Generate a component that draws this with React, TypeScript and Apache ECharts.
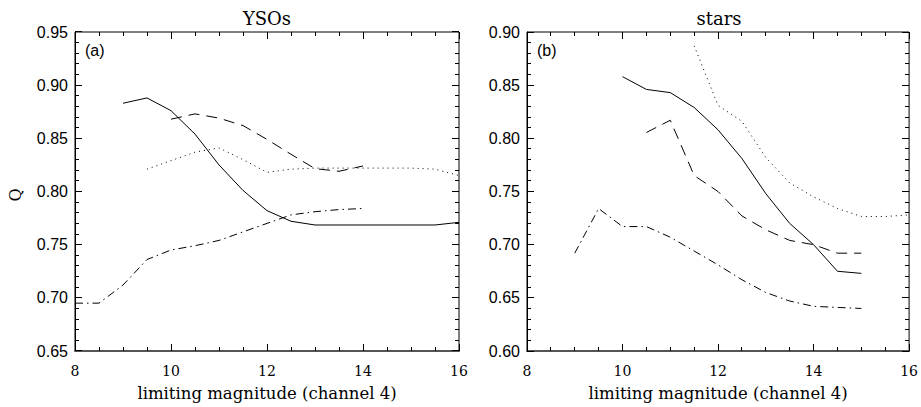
import React, { useEffect, useRef } from "react";
import * as echarts from "echarts";

const mags = [8, 8.5, 9, 9.5, 10, 10.5, 11, 11.5, 12, 12.5, 13, 13.5, 14, 14.5, 15, 15.5, 16];

// Panel (a): YSOs
const ysoSolid = [null, null, 0.883, 0.888, 0.876, 0.854, 0.825, 0.801, 0.782, 0.772, 0.7685, 0.7685, 0.7685, 0.7685, 0.7685, 0.7685, 0.771];
const ysoDashed = [null, null, null, null, 0.868, 0.873, 0.869, 0.862, 0.849, 0.835, 0.8215, 0.819, 0.824, null, null, null, null];
const ysoDotted = [null, null, null, 0.821, 0.829, 0.837, 0.841, 0.830, 0.818, 0.821, 0.822, 0.822, 0.822, 0.822, 0.822, 0.821, 0.815];
const ysoDashDot = [0.695, 0.695, 0.712, 0.736, 0.745, 0.749, 0.754, 0.762, 0.770, 0.778, 0.781, 0.783, 0.784, null, null, null, null];

// Panel (b): stars
const starSolid = [null, null, null, null, 0.858, 0.846, 0.843, 0.829, 0.808, 0.781, 0.748, 0.720, 0.700, 0.675, 0.673, null, null];
const starDotted = [null, null, null, null, null, null, null, 0.887, 0.831, 0.816, 0.782, 0.758, 0.745, 0.734, 0.7265, 0.7265, 0.728];
const starDashed = [null, null, null, null, null, 0.8055, 0.817, 0.765, 0.750, 0.727, 0.714, 0.704, 0.700, 0.692, 0.692, null, null];
const starDashDot = [null, null, 0.692, 0.734, 0.717, 0.717, 0.707, 0.694, 0.681, 0.667, 0.655, 0.647, 0.642, 0.641, 0.640, null, null];

const xTicks = [8, 10, 12, 14, 16];
const yTicksA = [0.65, 0.70, 0.75, 0.80, 0.85, 0.90, 0.95];
const yTicksB = [0.60, 0.65, 0.70, 0.75, 0.80, 0.85, 0.90];

const panelTitles = ["YSOs", "stars"];
const panelTags = ["(a)", "(b)"];
const xName = "limiting magnitude (channel 4)";
const yName = "Q";

const SERIF = "DejaVu Serif";
const SANS = "Liberation Sans";

// y values are plotted in hundredths so the axis works on whole numbers
const SCALE = 100;

function pairs(vals: (number | null)[]) {
  const out: [number, number][] = [];
  vals.forEach((v, i) => {
    if (v !== null) out.push([mags[i], Math.round(v * SCALE * 100) / 100]);
  });
  return out;
}

function minorsBetween(major: number[], parts: number) {
  const out: number[] = [];
  for (let i = 0; i < major.length - 1; i++) {
    const a = major[i];
    const b = major[i + 1];
    for (let k = 1; k < parts; k++) out.push(a + ((b - a) * k) / parts);
  }
  return out;
}

const styles: Record<string, any> = {
  solid: { type: "solid" },
  dashed: { type: [11, 7] },
  dotted: { type: [1, 4] },
  dashdot: { type: [8, 4, 1.5, 4] },
};

const MAJOR = 7;
const MINOR = 4;

export default function App() {
  const ref = useRef<HTMLDivElement>(null);
  useEffect(() => {
    document.body.style.margin = "0";
    const chart = echarts.init(ref.current!, null, { renderer: "svg" });
    const grids = [
      { left: 75, top: 32, width: 384, height: 326, show: true, borderColor: "#000", borderWidth: 1, backgroundColor: "transparent" },
      { left: 527, top: 32, width: 384, height: 326, show: true, borderColor: "#000", borderWidth: 1, backgroundColor: "transparent" },
    ];
    const xAxes: any[] = [];
    const yAxes: any[] = [];
    [0, 1].forEach((g) => {
      const yt = g === 0 ? yTicksA : yTicksB;
      xAxes.push({
        type: "value",
        gridIndex: g,
        min: xTicks[0],
        max: xTicks[xTicks.length - 1],
        interval: 2,
        splitLine: { show: false },
        axisTick: { show: false },
        minorTick: { show: false },
        axisLine: { show: true, lineStyle: { color: "#555", width: 2 } },
        axisLabel: { show: true, fontFamily: SERIF, fontSize: 14, color: "#000", margin: 13 },
        name: xName,
        nameLocation: "middle",
        nameGap: 34,
        nameTextStyle: { fontFamily: SERIF, fontSize: 16.5, color: "#000" },
      });
      yAxes.push({
        type: "value",
        gridIndex: g,
        min: Math.round(yt[0] * SCALE),
        max: Math.round(yt[yt.length - 1] * SCALE),
        interval: 5,
        splitLine: { show: false },
        axisTick: { show: false },
        minorTick: { show: false },
        axisLine: { show: true, lineStyle: { color: "#000", width: 1 } },
        axisLabel: {
          show: true,
          fontFamily: SANS,
          fontSize: 16,
          color: "#000",
          margin: 7,
          formatter: (v: number) => (v / SCALE).toFixed(2),
        },
      });
    });

    const mk = (vals: (number | null)[], style: string, g: number) => ({
      type: "line",
      xAxisIndex: g,
      yAxisIndex: g,
      data: pairs(vals),
      showSymbol: false,
      symbol: "none",
      lineStyle: { color: "#000", width: 1, ...styles[style] },
    });

    // Tick marks on all four sides as thin filled rectangles, placed through the axes' own scales
    const tickSeries = (g: number) => {
      const yt = (g === 0 ? yTicksA : yTicksB).map((v) => Math.round(v * SCALE));
      const xMinor = minorsBetween(xTicks, 4);
      const yMinor = minorsBetween(yt, 5);
      const x0 = xTicks[0];
      const x1 = xTicks[xTicks.length - 1];
      const y0 = yt[0];
      const y1 = yt[yt.length - 1];
      return {
        type: "custom",
        xAxisIndex: g,
        yAxisIndex: g,
        z: 10,
        clip: false,
        data: [[x0, y0]],
        renderItem: (params: any, api: any) => {
          const children: any[] = [];
          const box = (x: number, y: number, w: number, h: number) => {
            children.push({
              type: "rect",
              shape: { x, y, width: w, height: h },
              style: { fill: "#000" },
            });
          };
          const xt = (v: number, len: number) => {
            const b = api.coord([v, y0]);
            const t = api.coord([v, y1]);
            const px = Math.round(b[0] - 0.5);
            box(px, b[1] - len, 1, len);
            box(px, t[1], 1, len);
          };
          const ytk = (v: number, len: number) => {
            const l = api.coord([x0, v]);
            const r = api.coord([x1, v]);
            const py = Math.round(l[1] - 0.5);
            box(l[0], py, len, 1);
            box(r[0] - len, py, len, 1);
          };
          xTicks.forEach((v) => xt(v, MAJOR));
          xMinor.forEach((v) => xt(v, MINOR));
          yt.forEach((v) => ytk(v, MAJOR));
          yMinor.forEach((v) => ytk(v, MINOR));
          return { type: "group", children };
        },
      };
    };

    const series = [
      mk(ysoSolid, "solid", 0),
      mk(ysoDashed, "dashed", 0),
      mk(ysoDotted, "dotted", 0),
      mk(ysoDashDot, "dashdot", 0),
      mk(starSolid, "solid", 1),
      mk(starDashed, "dashed", 1),
      mk(starDotted, "dotted", 1),
      mk(starDashDot, "dashdot", 1),
      tickSeries(0),
      tickSeries(1),
    ];

    const graphic: any[] = [];
    [0, 1].forEach((g) => {
      const gr = grids[g];
      graphic.push({
        type: "text",
        x: gr.left + gr.width / 2,
        y: 18,
        style: {
          text: panelTitles[g],
          fontFamily: SERIF,
          fontSize: 18,
          fill: "#000",
          align: "center",
          verticalAlign: "middle",
        },
      });
      graphic.push({
        type: "text",
        x: gr.left + 10,
        y: 50,
        style: {
          text: panelTags[g],
          fontFamily: SANS,
          fontSize: 16,
          fill: "#000",
          align: "left",
          verticalAlign: "middle",
        },
      });
    });
    graphic.push({
      type: "text",
      x: 15,
      y: 195,
      rotation: Math.PI / 2,
      style: {
        text: yName,
        fontFamily: SERIF,
        fontSize: 16,
        fill: "#000",
        align: "center",
        verticalAlign: "middle",
      },
    });

    chart.setOption({
      animation: false,
      grid: grids,
      xAxis: xAxes,
      yAxis: yAxes,
      series,
      graphic,
    });

    // Second pass: the same ticks as graphic rectangles, positioned with the chart's own converters
    const extra: any[] = [];
    [0, 1].forEach((g) => {
      const yt = (g === 0 ? yTicksA : yTicksB).map((v) => Math.round(v * SCALE));
      const x0 = xTicks[0];
      const x1 = xTicks[xTicks.length - 1];
      const y0 = yt[0];
      const y1 = yt[yt.length - 1];
      const conv = (p: number[]) => chart.convertToPixel({ gridIndex: g } as any, p) as unknown as number[];
      const add = (x: number, y: number, w: number, h: number) =>
        extra.push({ type: "rect", z: 100, shape: { x, y, width: w, height: h }, style: { fill: "#000" }, silent: true });
      const xs: [number, number][] = [
        ...xTicks.map((v) => [v, MAJOR] as [number, number]),
        ...minorsBetween(xTicks, 4).map((v) => [v, MINOR] as [number, number]),
      ];
      const ys: [number, number][] = [
        ...yt.map((v) => [v, MAJOR] as [number, number]),
        ...minorsBetween(yt, 5).map((v) => [v, MINOR] as [number, number]),
      ];
      xs.forEach(([v, len]) => {
        const b = conv([v, y0]);
        const t = conv([v, y1]);
        if (!b || !t) return;
        const px = Math.round(b[0] - 0.5);
        add(px, b[1] - len, 1, len);
        add(px, t[1], 1, len);
      });
      ys.forEach(([v, len]) => {
        const l = conv([x0, v]);
        const r = conv([x1, v]);
        if (!l || !r) return;
        const py = Math.round(l[1] - 0.5);
        add(l[0], py, len, 1);
        add(r[0] - len, py, len, 1);
      });
    });
    chart.setOption({ graphic: [...graphic, ...extra] });

    return () => chart.dispose();
  }, []);
  return <div ref={ref} style={{ width: 921, height: 407 }} />;
}
